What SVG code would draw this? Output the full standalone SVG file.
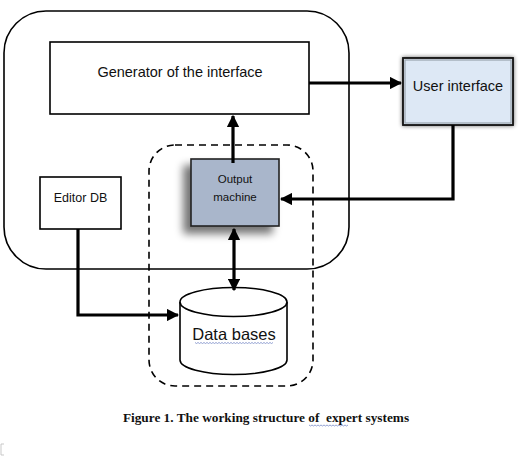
<svg xmlns="http://www.w3.org/2000/svg" width="523" height="456" viewBox="0 0 523 456">
<defs>
<style>
.box{stroke:#000;stroke-width:1.6;fill:#fff}
.lbl{font-family:"Liberation Sans","DejaVu Sans",sans-serif;fill:#111;text-anchor:middle}
.conn{stroke:#000;stroke-width:3.2;fill:none}
.wavy{stroke:#7a8cc8;stroke-width:0.8;fill:none}
</style>
<marker id="ah" viewBox="0 0 10 10" refX="9" refY="5" markerWidth="3.9" markerHeight="3.9" orient="auto-start-reverse">
<path d="M0,0 L10,5 L0,10 z" fill="#000"/>
</marker>
<filter id="sh1" x="-40%" y="-40%" width="180%" height="180%">
<feGaussianBlur in="SourceAlpha" stdDeviation="4"/>
<feOffset dx="-7" dy="7"/>
<feComponentTransfer><feFuncA type="linear" slope="0.55"/></feComponentTransfer>
<feMerge><feMergeNode/><feMergeNode in="SourceGraphic"/></feMerge>
</filter>
<filter id="sh2" x="-20%" y="-20%" width="140%" height="140%">
<feGaussianBlur in="SourceAlpha" stdDeviation="2"/>
<feComponentTransfer><feFuncA type="linear" slope="0.6"/></feComponentTransfer>
<feMerge><feMergeNode/><feMergeNode in="SourceGraphic"/></feMerge>
</filter>
</defs>
<rect width="523" height="456" fill="#fff"/>

<g id="system-boundary">
<rect x="4" y="11" width="345" height="258" rx="42" ry="42" fill="none" stroke="#000" stroke-width="1.6"/>
</g>

<g id="inference-boundary">
<rect x="149" y="145" width="164" height="241" rx="26" ry="26" fill="none" stroke="#000" stroke-width="1.6" stroke-dasharray="7,5"/>
</g>

<g id="generator">
<rect class="box" x="50" y="42" width="259" height="72"/>
<text class="lbl" x="180" y="77" font-size="14.5">Generator of the interface</text>
</g>

<g id="user-interface">
<rect x="403" y="58" width="110" height="67" fill="#dde8f5" stroke="#111" stroke-width="1.8" filter="url(#sh2)"/>
<rect x="405" y="60" width="106" height="63" fill="none" stroke="#9aa3ad" stroke-width="1.2"/>
<text class="lbl" x="458" y="91" font-size="14.5">User interface</text>
</g>

<g id="output-machine">
<rect x="191" y="159" width="88" height="67" fill="#a9b6cb" stroke="#222" stroke-width="1.6" filter="url(#sh1)"/>
<text class="lbl" x="235" y="183" font-size="11.5">Output</text>
<text class="lbl" x="235" y="201" font-size="11.5">machine</text>
</g>

<g id="editor-db">
<rect class="box" x="40" y="177" width="81" height="52"/>
<text class="lbl" x="80.5" y="202" font-size="12.5">Editor DB</text>
</g>

<g id="data-bases">
<path d="M180,302 L180,360 A53.5,14.5 0 0 0 287,360 L287,302" fill="#fff" stroke="#000" stroke-width="1.6"/>
<ellipse cx="233.5" cy="302" rx="53.5" ry="14.5" fill="#fff" stroke="#000" stroke-width="1.6"/>
<text class="lbl" x="234" y="340" font-size="16.5">Data bases</text>
<path class="wavy" d="M195,342.5 l1.5,1 l1.5,-1 l1.5,1 l1.5,-1 l1.5,1 l1.5,-1 l1.5,1 l1.5,-1 l1.5,1 l1.5,-1 l1.5,1 l1.5,-1 l1.5,1 l1.5,-1 l1.5,1 l1.5,-1 l1.5,1 l1.5,-1 l1.5,1 l1.5,-1 l1.5,1 l1.5,-1 l1.5,1 l1.5,-1 l1.5,1 l1.5,-1 l1.5,1 l1.5,-1 l1.5,1 l1.5,-1 l1.5,1 l1.5,-1 l1.5,1 l1.5,-1 l1.5,1 l1.5,-1 l1.5,1 l1.5,-1 l1.5,1 l1.5,-1 l1.5,1 l1.5,-1 l1.5,1 l1.5,-1 l1.5,1 l1.5,-1 l1.5,1 l1.5,-1 l1.5,1 l1.5,-1 l1.5,1 l1.5,-1"/>
</g>

<g id="connectors">
<path class="conn" d="M309,83 L401,83" marker-end="url(#ah)"/>
<path class="conn" d="M233,163 L233,116" marker-end="url(#ah)"/>
<path class="conn" d="M453,125 L453,199 L281,199" marker-end="url(#ah)"/>
<path class="conn" d="M234,229 L234,290" marker-start="url(#ah)" marker-end="url(#ah)"/>
<path class="conn" d="M78,229 L78,315 L178,315" marker-end="url(#ah)"/>
</g>

<g id="caption">
<text x="266" y="422" xml:space="preserve" font-family="'Liberation Serif','Times New Roman',serif" font-weight="bold" font-size="13.3" fill="#111" text-anchor="middle">Figure 1. The working structure of  expert systems</text>
<path class="wavy" d="M309,425 l1.5,1 l1.5,-1 l1.5,1 l1.5,-1 l1.5,1 l1.5,-1 l1.5,1 l1.5,-1 l1.5,1 l1.5,-1 l1.5,1 l1.5,-1 l1.5,1 l1.5,-1 l1.5,1 l1.5,-1 l1.5,1 l1.5,-1 l1.5,1 l1.5,-1 l1.5,1 l1.5,-1 l1.5,1 l1.5,-1 l1.5,1 l1.5,-1"/>
<path d="M4,444 L1,444 L1,455 L4,455" fill="none" stroke="#bbb" stroke-width="0.8"/>
</g>
</svg>
